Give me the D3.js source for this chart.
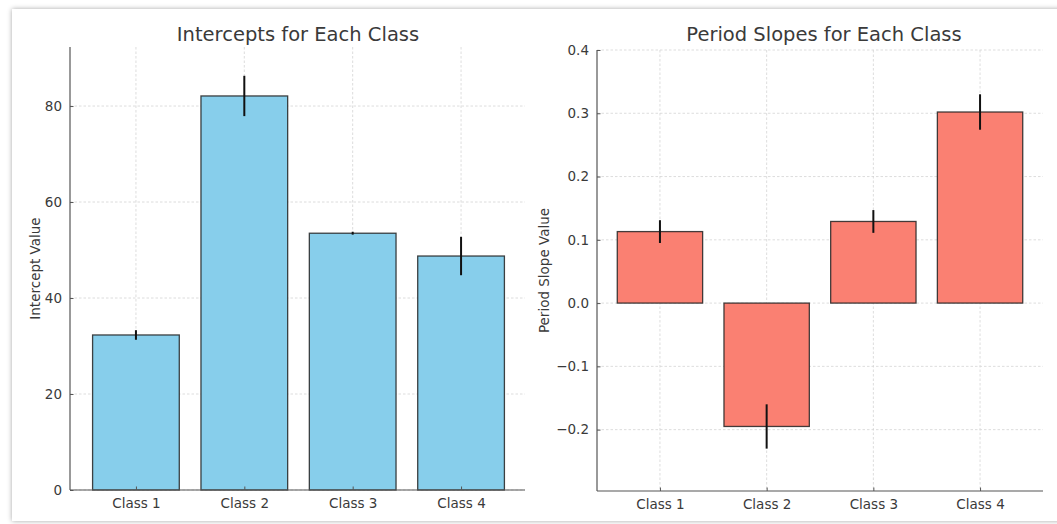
<!DOCTYPE html>
<html><head><meta charset="utf-8">
<script src="https://cdn.jsdelivr.net/npm/d3@7"></script>
<style>body{margin:0;background:#fff;}svg{display:block;font-family:"DejaVu Sans",sans-serif;}</style>
</head><body><svg id="c" width="1057" height="524"></svg>
<script>
const categories = ["Class 1","Class 2","Class 3","Class 4"];
const intercepts = [32.3, 82.1, 53.5, 48.75];
const interceptErr = [1.0, 4.2, 0.3, 4.0];
const slopes = [0.113, -0.195, 0.129, 0.302];
const slopeErr = [0.018, 0.035, 0.018, 0.028];
const interceptTicks = [0, 20, 40, 60, 80];
const slopeTicks = [-0.2, -0.1, 0.0, 0.1, 0.2, 0.3, 0.4];

const svg = d3.select("#c");
const defs = svg.append("defs");
const f = defs.append("filter").attr("id","sh").attr("x","-5%").attr("y","-5%").attr("width","110%").attr("height","110%");
f.append("feDropShadow").attr("dx",0).attr("dy",0).attr("stdDeviation",2.5).attr("flood-color","#000").attr("flood-opacity",0.35);
svg.append("rect").attr("x",12).attr("y",9).attr("width",1070).attr("height",512)
  .attr("fill","#fff").attr("filter","url(#sh)");

const textCol = "#3a3a3a";

function panel(o){
  const g = svg.append("g");
  const x = d3.scaleLinear().domain([-0.59, 3.59]).range([o.xl, o.xr]);
  const y = d3.scaleLinear().domain(o.ydom).range([o.bottom, o.top]);
  // grid
  g.selectAll(".hg").data(o.ticks).join("line")
    .attr("x1",o.left).attr("x2",o.right).attr("y1",d=>y(d)).attr("y2",d=>y(d))
    .attr("stroke","#d4d4d4").attr("stroke-width",0.8).attr("stroke-dasharray","2.5,2");
  g.selectAll(".vg").data(categories).join("line")
    .attr("x1",(d,i)=>x(i)).attr("x2",(d,i)=>x(i)).attr("y1",o.top).attr("y2",o.bottom)
    .attr("stroke","#d4d4d4").attr("stroke-width",0.8).attr("stroke-dasharray","2.5,2");
  // bars
  const bw = x(0.4)-x(-0.4);
  g.selectAll(".bar").data(o.values).join("rect")
    .attr("x",(d,i)=>x(i)-bw/2).attr("width",bw)
    .attr("y",d=>y(Math.max(0,d))).attr("height",d=>Math.abs(y(d)-y(0)))
    .attr("fill",o.color).attr("stroke","#222").attr("stroke-opacity",0.85).attr("stroke-width",1.3);
  // error bars
  g.selectAll(".err").data(o.values).join("line")
    .attr("x1",(d,i)=>x(i)).attr("x2",(d,i)=>x(i))
    .attr("y1",(d,i)=>y(d-o.err[i])).attr("y2",(d,i)=>y(d+o.err[i]))
    .attr("stroke","#111").attr("stroke-width",2);
  // axes
  const ya = d3.axisLeft(y).tickValues(o.ticks).tickFormat(o.fmt).tickSizeInner(-3.5).tickSizeOuter(0).tickPadding(8);
  const yg = g.append("g").attr("transform",`translate(${o.left},0)`).call(ya);
  const xa = d3.axisBottom(x).tickValues([0,1,2,3]).tickFormat(i=>categories[i]).tickSizeInner(-3.5).tickSizeOuter(0).tickPadding(8);
  const xg = g.append("g").attr("transform",`translate(0,${o.bottom})`).call(xa);
  [yg,xg].forEach(a=>{
    a.select(".domain").attr("stroke","#555").attr("stroke-width",1.2);
    a.selectAll(".tick line").attr("stroke","#555");
    a.selectAll(".tick text").attr("fill",textCol).attr("font-size",13.5).attr("font-family","DejaVu Sans");
  });
  xg.select(".domain").attr("d",`M${o.left},0H${o.right}`);
  yg.select(".domain").attr("d",`M0,${o.bottom}V${o.top}`);
  // title
  g.append("text").attr("x",o.tx).attr("y",41).attr("text-anchor","middle")
    .attr("font-size",19.5).attr("fill",textCol).text(o.title);
  g.append("text").attr("transform",`translate(${o.ylx},${(o.top+o.bottom)/2}) rotate(-90)`)
    .attr("text-anchor","middle").attr("font-size",13.5).attr("fill",textCol).text(o.ylabel);
}

panel({left:70,right:525,xl:72,xr:525,top:47,bottom:490,ydom:[0,92.3],ticks:interceptTicks,values:intercepts,err:interceptErr,
  color:"#87CEEB",fmt:d3.format("d"),title:"Intercepts for Each Class",ylabel:"Intercept Value",ylx:40,tx:298});
panel({left:597,right:1043,xl:597,xr:1043,top:50,bottom:491,ydom:[-0.297,0.4],ticks:slopeTicks,values:slopes,err:slopeErr,
  color:"#FA8072",fmt:d3.format(".1f"),title:"Period Slopes for Each Class",ylabel:"Period Slope Value",ylx:549,tx:824});
</script></body></html>
